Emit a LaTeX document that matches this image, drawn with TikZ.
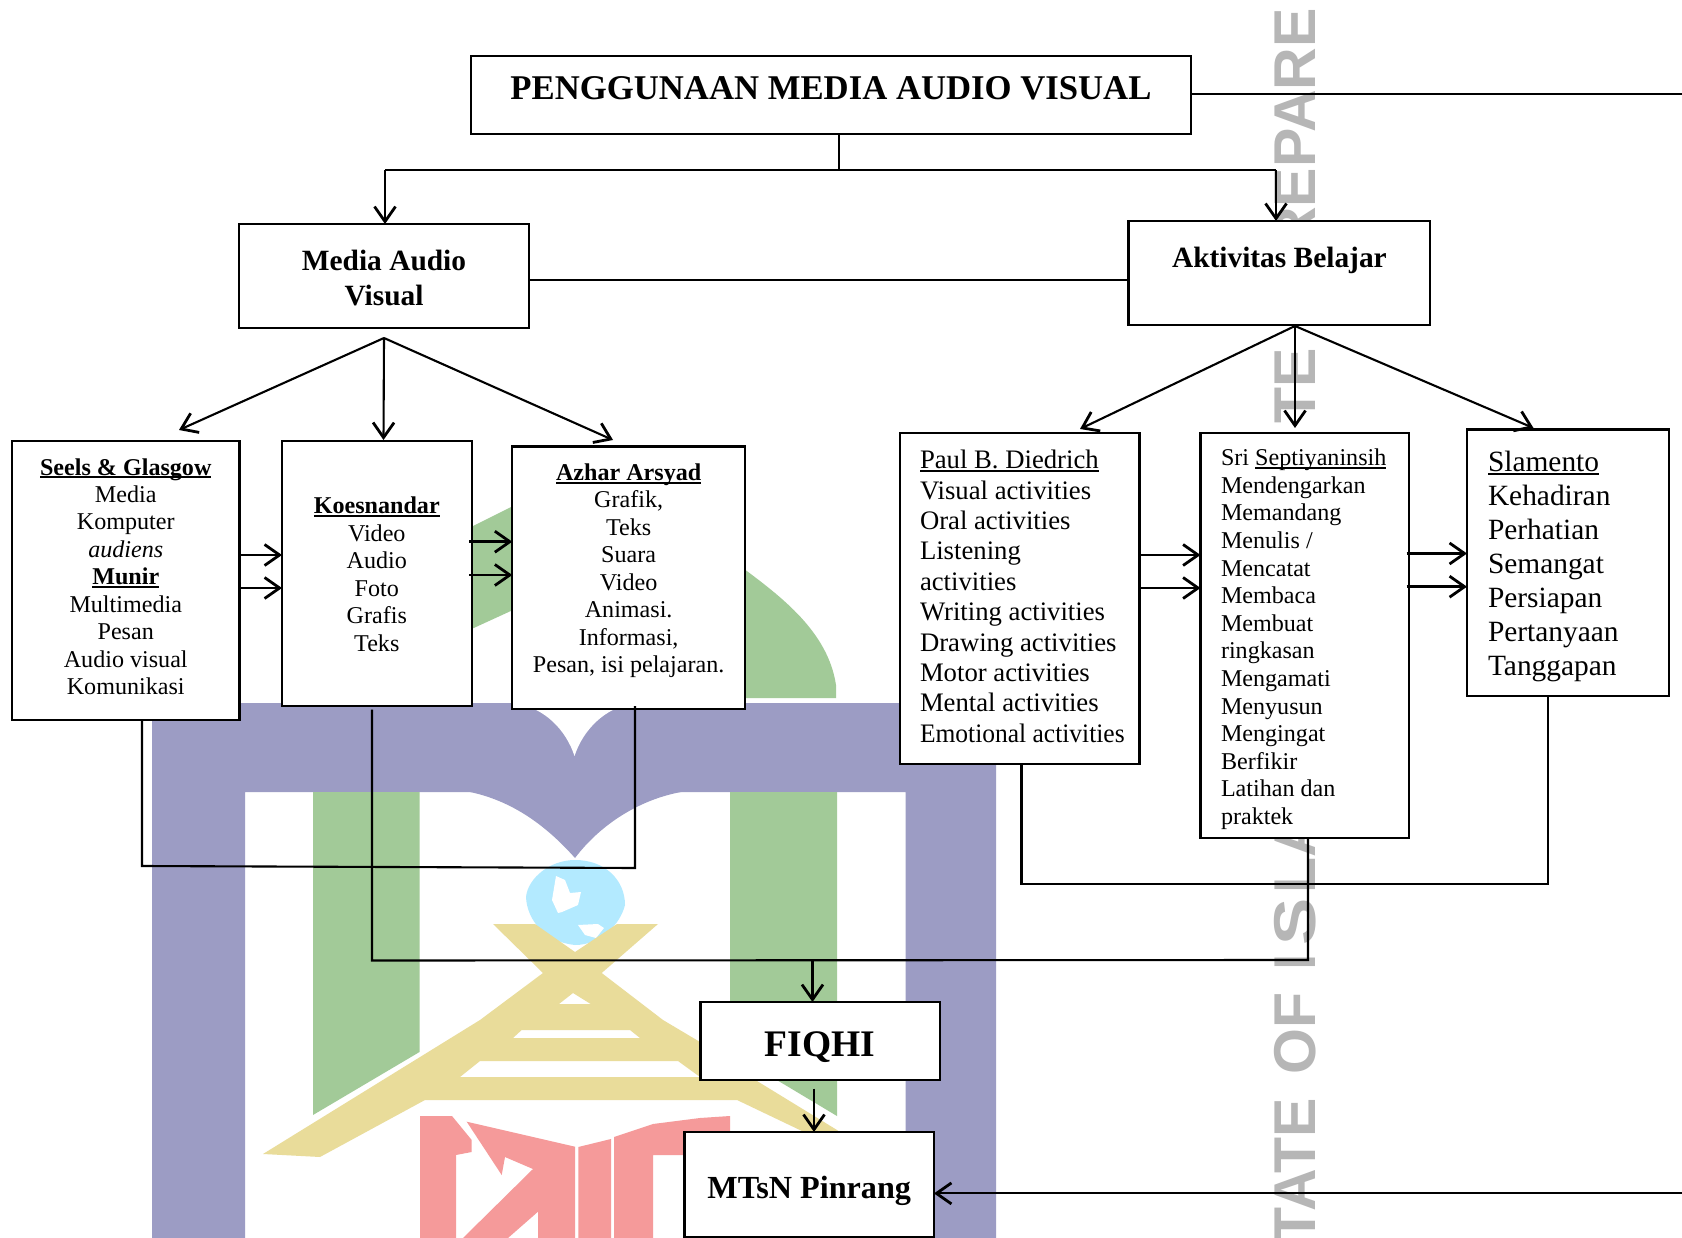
\documentclass[tikz,border=0pt]{standalone}
\usepackage{fontspec}
\usepackage{graphicx}
\setmainfont{Liberation Serif}
\newfontfamily\wmfont{Liberation Sans}
\usetikzlibrary{arrows.meta,calc}
\definecolor{wpurple}{HTML}{9C9CC4}
\definecolor{wgreen}{HTML}{A2CA98}
\definecolor{wyellow}{HTML}{E9DC9A}
\definecolor{wblue}{HTML}{B3EAFF}
\definecolor{wred}{HTML}{F59A9A}
\definecolor{wgrey}{HTML}{B6B6B6}
% width, height, font size, line spacing, first baseline offset, alignment, body
\newcommand{\bxbody}[7]{\parbox[c][#2pt][t]{#1pt}{\fontsize{#3pt}{#4pt}\selectfont #6\par\vspace*{\dimexpr #5pt-30pt\relax}\leavevmode\rule{0pt}{30pt}\ignorespaces #7\par}}
\newcommand{\myul}[2][1.8]{\leavevmode\setbox0\hbox{#2}\rlap{\rule[-3pt]{\wd0}{#1pt}}\box0 }
\newcommand{\lft}[1]{\raggedright\leftskip=#1pt\relax}
\begin{document}
\begin{tikzpicture}[x=1pt,y=-1pt,
  box/.style={draw=black,line width=2.1pt,fill=white,inner sep=0pt,outer sep=0pt},
  conn/.style={draw=black,line width=2.1pt},
  arr/.style={conn,-{Straight Barb[length=15pt,width=21pt,line width=2.8pt]}},
  arrh/.style={arr,line width=2.6pt},
  wm/.style={rotate=90,inner sep=0pt,text=wgrey,font=\wmfont\bfseries\fontsize{59pt}{59pt}\selectfont}]
\useasboundingbox (0,0) rectangle (1682,1238);
\fill[white] (0,0) rectangle (1682,1238);
% ---- watermark logo
\fill[wgreen] (465,530) -- (513,506) -- (513,610) -- (465,632) -- cycle;
\fill[wgreen] (740,566) .. controls (782,597) and (828,632) .. (836,685) -- (836,698) -- (740,698) -- cycle;
\fill[wpurple] (152,703) -- (996,703) -- (996,1238) -- (905.5,1238) -- (905.5,792) -- (245,792) -- (245,1238) -- (152,1238) -- cycle;
\fill[white] (515,703) .. controls (545,708) and (566,730) .. (574.5,756) .. controls (583,730) and (605,707) .. (635,703) -- cycle;
\fill[wpurple] (465,791) .. controls (515,800) and (550,830) .. (575,858) .. controls (600,825) and (640,798) .. (687,791) -- cycle;
\fill[wgreen] (313,792) -- (419.5,792) -- (419.5,1052) -- (313,1115) -- cycle;
\fill[wgreen] (730,792) -- (837,792) -- (837,1116) -- (730,1052) -- cycle;
\fill[wblue] (575,860) .. controls (605,860) and (625,880) .. (625,905) .. controls (620,925) and (600,945) .. (575,945) .. controls (545,942) and (527,920) .. (526,897) .. controls (528,878) and (550,860) .. (575,860) -- cycle;
\fill[white] (556,876) -- (565,880) -- (570,893) -- (581,892) -- (578,905) -- (562,912) -- (558,913) -- (552,900) -- cycle;
\fill[white] (578,925) -- (598,924) -- (604,928) -- (596,938) -- (585,935) -- cycle;
\fill[wyellow,even odd rule]
  (493,924) -- (535,924) -- (575,952) -- (617,924) -- (658,924) -- (601.7,973) -- (663,1020) -- (700,1042) -- (757,1081) -- (837,1130) -- (850,1140) -- (804,1140) -- (804,1132) -- (737,1100) -- (425,1100) -- (320,1157) -- (263,1154) -- (480,1020) -- (543,973) -- cycle
  (573,993) -- (590.7,1004) -- (559,1004) -- cycle
  (521.7,1030) -- (630,1030) -- (640,1038) -- (513,1038) -- cycle
  (480,1061) -- (678,1061) -- (700,1077) -- (460,1077) -- cycle;
\fill[wred] (420,1116) -- (452,1116) -- (471.7,1140) -- (471.7,1152) -- (456,1155) -- (456,1238) -- (420,1238) -- cycle;
\fill[wred] (466.7,1121.7) -- (575,1146.7) -- (575,1238) -- (538,1238) -- (538,1211.7) -- (508,1238) -- (463,1238) -- (533,1169) -- (505,1157) -- (501.7,1175) -- cycle;
\fill[wred] (578.3,1147) -- (611,1139) -- (611,1238) -- (578.3,1238) -- cycle;
\fill[wred] (614,1137) -- (653,1124) -- (700,1118) -- (730,1116) -- (730,1155) -- (653,1155) -- (653,1238) -- (614,1238) -- cycle;
% ---- watermark text
\node[wm,anchor=base east] (wma) at (1315,8) {REPARE};
\node[wm,anchor=base east] (wmb) at (1315,348) {TE};
\node[wm,anchor=base west] (wmc) at (1315,971) {I};
\node[wm,anchor=base west] (wmf) at (1315,946) {\scalebox{1.2}[1]{S}};
\node[wm,anchor=base west] (wmg) at (1315,894) {LA};
\node[wm,anchor=base east] (wmd) at (1315,992) {OF};
\node[wm,anchor=base east] (wme) at (1315,1098) {TATE};
% ---- boxes
\node[box] (title) at (831,95) {\bxbody{720}{78}{34.7}{40}{44}{\centering\bfseries}{PENGGUNAAN MEDIA AUDIO VISUAL}};
\node[box] (mav) at (384,276) {\bxbody{290}{104}{29.4}{35}{47}{\centering\bfseries}{Media Audio\\Visual}};
\node[box] (akt) at (1279.4,273.2) {\bxbody{301.8}{104.5}{29.4}{35}{47}{\centering\bfseries}{Aktivitas Belajar}};
\node[box] (seels) at (125.75,580.5) {\bxbody{227.5}{279}{24.1}{27.46}{34}{\centering}{\myul{\textbf{Seels \& Glasgow}}\\Media\\Komputer\\\textit{audiens}\\\myul{\textbf{Munir}}\\Multimedia\\Pesan\\Audio visual\\Komunikasi}};
\node[box] (koes) at (376.8,573.35) {\bxbody{189.6}{264.7}{24.1}{27.5}{72.5}{\centering}{\myul{\textbf{Koesnandar}}\\Video\\Audio\\Foto\\Grafis\\Teks}};
\node[box] (azhar) at (628.65,577.75) {\bxbody{232.7}{262.5}{24.1}{27.45}{34}{\centering}{\myul{\textbf{Azhar Arsyad}}\\Grafik,\\Teks\\Suara\\Video\\Animasi.\\Informasi,\\Pesan, isi pelajaran.}};
\node[box] (paul) at (1019.75,598.5) {\bxbody{239.5}{331.6}{26.7}{30.4}{36}{\lft{20}}{\myul[1.4]{Paul B. Diedrich}\\Visual activities\\Oral activities\\Listening\\activities\\Writing activities\\Drawing activities\\Motor activities\\Mental activities\\\scalebox{0.955}[1]{Emotional activities}}};
\node[box] (sri) at (1304.75,635.5) {\bxbody{208.5}{405.6}{24.1}{27.6}{33}{\lft{20.5}}{Sri \myul[1.4]{Septiyaninsih}\\Mendengarkan\\Memandang\\Menulis /\\Mencatat\\Membaca\\Membuat\\ringkasan\\Mengamati\\Menyusun\\Mengingat\\Berfikir\\Latihan dan\\praktek}};
\node[box] (slam) at (1568,562.75) {\bxbody{202}{266.5}{29.4}{34}{42}{\lft{21}}{\myul[1.6]{Slamento}\\Kehadiran\\Perhatian\\Semangat\\Persiapan\\Pertanyaan\\Tanggapan}};
\node[box] (fiqhi) at (820.1,1041) {\bxbody{239.2}{78}{37.5}{40}{54}{\centering\bfseries}{FIQHI}};
\node[box] (mts) at (809.25,1184.75) {\bxbody{249.5}{105.5}{32.2}{38}{66}{\centering\bfseries}{MTsN Pinrang}};
% ---- junctions and free ends
\coordinate (tr) at (1682,94.3);
\coordinate (mr) at (1682,1193.4);
\coordinate (spine) at (839,170);
\coordinate (spL) at (385,170);
\coordinate (spR) at (1276,170);
\coordinate (mavt) at (384,338);
\coordinate (mavL) at (179,430);
\coordinate (mavM) at (383.5,440);
\coordinate (mavR) at (613,440);
\coordinate (aktt) at (1295,326);
\coordinate (aktL) at (1080,429);
\coordinate (aktM) at (1295,428);
\coordinate (aktR) at (1533.5,428);
\coordinate (ya) at (0,555);
\coordinate (yb) at (0,588);
\coordinate (yc) at (0,541.7);
\coordinate (yd) at (0,575);
\coordinate (ye) at (0,553.5);
\coordinate (yf) at (0,586.7);
\coordinate (kstart) at (469,0);
\coordinate (sstart) at (1406.7,0);
\coordinate (j1) at (142,866);
\coordinate (j2) at (635,868);
\coordinate (j2t) at (635,706);
\coordinate (kt) at (372,709.5);
\coordinate (k1) at (372,960.5);
\coordinate (k2) at (1308,960);
\coordinate (kf) at (812.5,960.5);
\coordinate (p1) at (1021.5,884);
\coordinate (p2) at (1548,884);
\coordinate (fm) at (814,1088.5);
% ---- connectors
\draw[conn] (title.east |- tr) -- (tr);
\draw[conn] (title.south -| spine) -- (spine);
\draw[conn] (spL) -- (spR);
\draw[arr] (spL) -- (mav.north -| spL);
\draw[arr] (spR) -- (akt.north -| spR);
\draw[conn] (mav.east |- 0,280) -- (akt.west |- 0,280);
\draw[arr] (mavt) -- (mavL);
\draw[arr] (mavt) -- (mavM);
\draw[arr] (mavt) -- (mavR);
\draw[arr] (aktt) -- (aktL);
\draw[arr] (aktt) -- (aktM);
\draw[arr] (aktt) -- (aktR);
\draw[arrh] (seels.east |- ya) -- (koes.west |- ya);
\draw[arrh] (seels.east |- yb) -- (koes.west |- yb);
\draw[arrh] (kstart |- yc) -- (azhar.west |- yc);
\draw[arrh] (kstart |- yd) -- (azhar.west |- yd);
\draw[arrh] (paul.east |- ya) -- (sri.west |- ya);
\draw[arrh] (paul.east |- yb) -- (sri.west |- yb);
\draw[arrh] (sstart |- ye) -- (slam.west |- ye);
\draw[arrh] (sstart |- yf) -- (slam.west |- yf);
\draw[conn] (seels.south -| j1) -- (j1) -- (j2) -- (j2t);
\draw[conn] (kt) -- (k1) -- (k2) -- (sri.south -| k2);
\draw[arr] (kf) -- (fiqhi.north -| kf);
\draw[arr] (fm) -- (mts.north -| fm);
\draw[conn] (paul.south -| p1) -- (p1) -- (p2) -- (slam.south -| p2);
\draw[arr] (mr) -- (mts.east |- mr);
\end{tikzpicture}
\end{document}
